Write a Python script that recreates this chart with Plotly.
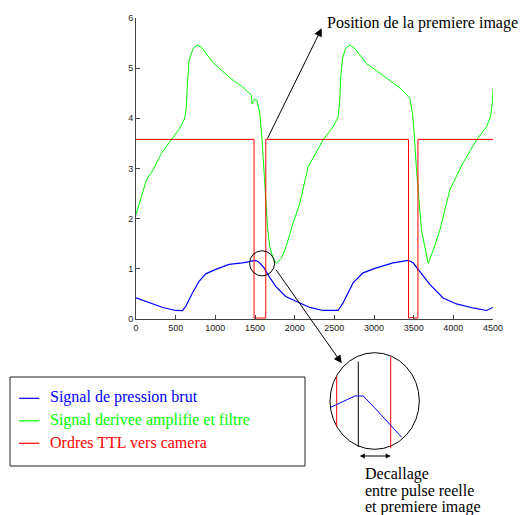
import plotly.graph_objects as go

# ---------------- data ----------------
blue_x = [0, 170, 338, 500, 585, 627, 711, 795, 879, 1005, 1173, 1341, 1509, 1551, 1614, 1677,
          1761, 1887, 2000, 2140, 2190, 2358, 2547, 2610, 2736, 2862, 3030, 3240, 3430, 3493,
          3577, 3703, 3871, 4040, 4250, 4418, 4500]
blue_y = [0.42, 0.32, 0.23, 0.17, 0.165, 0.25, 0.52, 0.75, 0.90, 0.99, 1.09, 1.12, 1.17, 1.13, 1.02, 0.85,
          0.65, 0.45, 0.37, 0.27, 0.23, 0.17, 0.17, 0.32, 0.72, 0.92, 1.02, 1.12, 1.17, 1.12,
          0.95, 0.69, 0.42, 0.30, 0.22, 0.17, 0.23]

green_x = [0, 131, 214, 320, 425, 551, 614, 635, 648, 669, 719, 770, 824, 888, 971, 1097, 1223,
           1349, 1455, 1463, 1497, 1526, 1560, 1589, 1610, 1632, 1657, 1686, 1728, 1770, 1833,
           1897, 1980, 2064, 2169, 2358, 2484, 2548, 2569, 2581, 2603, 2640, 2694, 2758, 2821,
           2906, 3032, 3199, 3347, 3451, 3485, 3506, 3536, 3599, 3682, 3746, 3830, 3955, 4107,
           4292, 4418, 4469, 4494, 4500]
green_y = [2.08, 2.77, 2.97, 3.30, 3.53, 3.80, 4.00, 4.23, 4.70, 5.16, 5.39, 5.46, 5.42, 5.29, 5.11,
           4.93, 4.76, 4.62, 4.46, 4.29, 4.38, 4.36, 4.10, 3.57, 2.97, 2.30, 1.84, 1.44, 1.21, 1.11,
           1.21, 1.47, 1.91, 2.30, 3.03, 3.57, 3.83, 4.03, 4.36, 4.83, 5.19, 5.39, 5.46, 5.39, 5.26,
           5.09, 4.95, 4.76, 4.58, 4.40, 4.10, 3.70, 2.97, 1.77, 1.11, 1.37, 1.77, 2.57, 3.07,
           3.57, 3.83, 4.03, 4.36, 4.58]

red_x = [0, 1488, 1488, 1540, 1560, 1636, 1636, 3435, 3435, 3490, 3510, 3554, 3554, 4500]
red_y = [3.58, 3.58, 0.02, 0.03, 0.02, 0.02, 3.58, 3.58, 0.02, 0.03, 0.02, 0.02, 3.58, 3.58]

x_ticks = [0, 500, 1000, 1500, 2000, 2500, 3000, 3500, 4000, 4500]
y_ticks = [0, 1, 2, 3, 4, 5, 6]

legend_names = ["Signal de pression brut", "Signal derivee amplifie et filtre", "Ordres TTL vers camera"]
legend_colors = ["#0000ff", "#00ff00", "#ff0000"]

title_note = "Position de la premiere image"
bottom_note = ["Decallage", "entre pulse reelle", "et premiere image"]

# ---------------- layout geometry ----------------
W, H = 528, 515
L, R, T, B = 136, 493, 18, 319


def xp(px):
    return (px - L) / (R - L)


def yp(py):
    return (B - py) / (B - T)


SERIF = "Liberation Serif, Times New Roman, serif"
FS = 16

fig = go.Figure()
fig.add_trace(go.Scatter(x=blue_x, y=blue_y, mode="lines", line=dict(color=legend_colors[0], width=1.2),
                         name=legend_names[0], showlegend=False))
fig.add_trace(go.Scatter(x=green_x, y=green_y, mode="lines", line=dict(color=legend_colors[1], width=1),
                         name=legend_names[1], showlegend=False))
fig.add_trace(go.Scatter(x=red_x, y=red_y, mode="lines", line=dict(color=legend_colors[2], width=1),
                         name=legend_names[2], showlegend=False))

shapes = []
annotations = []

# small circle around the peak
shapes.append(dict(type="circle", xref="x", yref="y", x0=1431, x1=1747, y0=0.86, y1=1.36,
                   line=dict(color="black", width=1)))

# arrow to "Position de la premiere image"
annotations.append(dict(x=xp(321.7), y=yp(28.3), xref="paper", yref="paper", text="",
                        showarrow=True, ax=-55, ay=111.7, axref="pixel", ayref="pixel",
                        arrowhead=2, arrowsize=1.6, arrowwidth=1, arrowcolor="black", standoff=0))
annotations.append(dict(x=xp(325), y=yp(23), xref="paper", yref="paper", text=title_note,
                        showarrow=False, xanchor="left", yanchor="middle",
                        font=dict(family=SERIF, size=FS, color="black")))

# arrow from small circle to the zoom inset
annotations.append(dict(x=xp(341.7), y=yp(363.3), xref="paper", yref="paper", text="",
                        showarrow=True, ax=-66.7, ay=-95, axref="pixel", ayref="pixel",
                        arrowhead=2, arrowsize=1.6, arrowwidth=1, arrowcolor="black", standoff=0))

# zoom inset
shapes.append(dict(type="circle", xref="paper", yref="paper", x0=xp(330), x1=xp(419.3),
                   y0=yp(449.3), y1=yp(352.7), line=dict(color="black", width=1)))
shapes.append(dict(type="line", xref="paper", yref="paper", x0=xp(358.3), x1=xp(358.3),
                   y0=yp(361.7), y1=yp(447), line=dict(color="black", width=1)))
shapes.append(dict(type="line", xref="paper", yref="paper", x0=xp(336.7), x1=xp(336.7),
                   y0=yp(376.7), y1=yp(426.7), line=dict(color="#ff0000", width=1)))
shapes.append(dict(type="line", xref="paper", yref="paper", x0=xp(390.7), x1=xp(390.7),
                   y0=yp(356.7), y1=yp(448.3), line=dict(color="#ff0000", width=1)))
inset_pts = [(330.7, 407.3), (355, 396), (363.3, 396), (376.7, 410), (401.7, 437.3)]
path = "M " + " L ".join(f"{xp(a):.5f},{yp(b):.5f}" for a, b in inset_pts)
shapes.append(dict(type="path", xref="paper", yref="paper", path=path,
                   line=dict(color="#0000ff", width=1)))
annotations.append(dict(x=xp(390.7), y=yp(456), xref="paper", yref="paper", text="",
                        showarrow=True, ax=-32.4, ay=0, axref="pixel", ayref="pixel",
                        arrowhead=2, arrowside="end+start", arrowsize=1, arrowwidth=1,
                        arrowcolor="black", standoff=0, startstandoff=0))
for i, line in enumerate(bottom_note):
    annotations.append(dict(x=xp(363), y=yp(474 + 16.5 * i), xref="paper", yref="paper", text=line,
                            showarrow=False, xanchor="left", yanchor="middle",
                            font=dict(family=SERIF, size=FS, color="black")))

# legend box
shapes.append(dict(type="rect", xref="paper", yref="paper", x0=xp(10), x1=xp(305),
                   y0=yp(466), y1=yp(377), line=dict(color="#222222", width=1), fillcolor="white"))
for i, (nm, col) in enumerate(zip(legend_names, legend_colors)):
    ypix = 398.3 + 22.5 * i
    shapes.append(dict(type="line", xref="paper", yref="paper", x0=xp(19), x1=xp(39.3),
                       y0=yp(ypix), y1=yp(ypix), line=dict(color=col, width=1.2)))
    annotations.append(dict(x=xp(47.5), y=yp(ypix - 1), xref="paper", yref="paper", text=nm,
                            showarrow=False, xanchor="left", yanchor="middle",
                            font=dict(family=SERIF, size=FS, color=col)))

axis_common = dict(showline=True, linecolor="#444444", linewidth=1, ticks="inside", ticklen=4,
                   tickcolor="#444444", showgrid=False, zeroline=False,
                   tickfont=dict(family="Liberation Sans, Arial, sans-serif", size=9, color="#222222"))

fig.update_layout(
    width=W, height=H,
    margin=dict(l=L, r=W - R, t=T, b=H - B, pad=0),
    paper_bgcolor="white", plot_bgcolor="white",
    xaxis=dict(range=[0, 4500], tickvals=x_ticks, ticktext=[str(v) for v in x_ticks], **axis_common),
    yaxis=dict(range=[0, 6], tickvals=y_ticks, ticktext=[str(v) for v in y_ticks], **axis_common),
    shapes=shapes, annotations=annotations, showlegend=False,
)

fig.write_html("out.html", config={"displayModeBar": False},
               post_script="document.body.style.margin='0px';")
